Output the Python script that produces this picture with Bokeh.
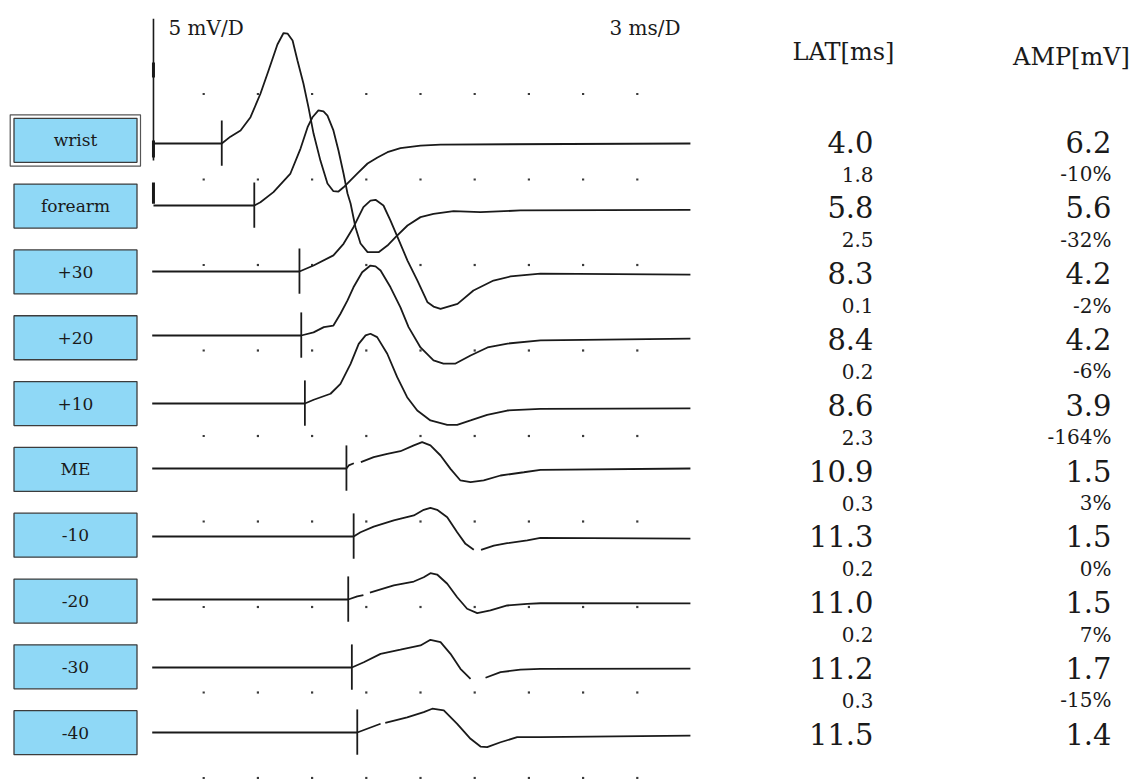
from bokeh.plotting import figure
from bokeh.models import Range1d
from bokeh.core.properties import value
from bokeh.embed import file_html
from bokeh.resources import INLINE

NaN = float("nan")

# ---------------- data ----------------
site_labels = ["wrist", "forearm", "+30", "+20", "+10", "ME", "-10", "-20", "-30", "-40"]
lat_ms = [4.0, 5.8, 8.3, 8.4, 8.6, 10.9, 11.3, 11.0, 11.2, 11.5]
lat_diff_ms = [1.8, 2.5, 0.1, 0.2, 2.3, 0.3, 0.2, 0.2, 0.3]
amp_mv = [6.2, 5.6, 4.2, 4.2, 3.9, 1.5, 1.5, 1.5, 1.7, 1.4]
amp_diff_pct = [-10, -32, -2, -6, -164, 3, 0, 7, -15]

# waveforms: time (ms) and amplitude (mV, relative to each trace baseline)
wrist_t = [0.22, 4.0, 4.48, 5.04, 5.59, 6.14, 6.59, 7.08, 7.42, 7.64, 7.92, 8.19, 8.52, 8.80, 9.08, 9.46,
           9.85, 10.18, 10.46, 10.74, 11.51, 12.07, 12.62, 13.17, 13.89, 15.00, 16.11, 29.94]
wrist_a = [0, 0, 0.40, 0.76, 1.54, 2.91, 4.27, 5.79, 6.46, 6.43, 6.02, 4.85, 3.51, 2.11, 0.58, -1.00,
           -2.34, -2.79, -2.81, -2.56, -1.75, -1.17, -0.82, -0.51, -0.27, -0.12, -0.06, 0.0]
forearm_t = [0.22, 5.8, 6.14, 6.86, 7.80, 8.36, 8.75, 9.02, 9.35, 9.63, 9.85, 10.18, 10.46, 10.74, 10.96,
             11.13, 11.40, 11.68, 12.07, 12.68, 13.17, 13.62, 14.28, 15.00, 15.72, 16.83, 18.32, 20.53, 29.94]
forearm_a = [0, 0, 0.19, 0.78, 1.87, 3.33, 4.58, 5.16, 5.56, 5.50, 5.26, 4.39, 3.22, 1.87, 0.70,
             0.12, -1.27, -2.22, -2.73, -2.73, -2.34, -1.85, -1.17, -0.68, -0.49, -0.33, -0.39, -0.29, -0.26]
p30_t = [0.15, 8.3, 9.08, 10.18, 10.74, 11.29, 11.84, 12.23, 12.51, 12.95, 13.34, 13.73, 14.28, 14.83,
         15.39, 15.72, 16.11, 17.05, 17.93, 19.04, 19.98, 21.64, 29.94]
p30_a = [0, 0, 0.35, 0.94, 1.62, 2.59, 3.76, 4.15, 4.19, 3.86, 2.98, 2.01, 0.64, -0.53,
         -1.80, -2.05, -2.18, -1.89, -1.11, -0.53, -0.29, -0.12, -0.18]
p20_t = [0.15, 8.4, 9.08, 9.65, 10.18, 10.57, 10.96, 11.29, 11.77, 12.23, 12.51, 12.79, 13.34, 13.89,
         14.34, 15.00, 15.72, 16.27, 16.94, 17.77, 18.71, 19.82, 21.64, 29.94]
p20_a = [0, 0, 0.18, 0.49, 0.58, 1.27, 2.05, 2.82, 3.70, 4.09, 4.04, 3.80, 2.82, 1.65,
         0.49, -0.70, -1.46, -1.64, -1.64, -1.17, -0.70, -0.47, -0.29, -0.18]
p10_t = [0.15, 8.6, 9.09, 10.02, 10.57, 11.13, 11.58, 11.96, 12.23, 12.60, 13.16, 13.71, 14.26, 14.82,
         15.55, 16.48, 17.03, 17.77, 18.69, 19.80, 21.64, 29.94]
p10_a = [0, 0, 0.22, 0.57, 1.15, 2.32, 3.49, 3.98, 4.08, 3.88, 2.91, 1.54, 0.37, -0.41,
         -0.99, -1.25, -1.25, -0.99, -0.66, -0.41, -0.31, -0.29]
me_t = [0.15, 10.9, 11.03, 11.31, NaN, 11.70, 12.41, 13.16, 13.89, 14.63, 15.09, 15.55, 16.11, 16.66,
        17.21, 17.77, 18.50, 19.43, 20.72, 21.64, 29.94]
me_a = [0, 0, 0.18, 0.31, NaN, 0.37, 0.66, 0.86, 1.01, 1.35, 1.54, 1.35, 0.76, -0.02,
        -0.70, -0.80, -0.70, -0.41, -0.22, -0.08, 0.0]
m10_t = [0.15, 11.3, 11.68, 12.41, 13.52, 14.63, 15.18, 15.55, 15.92, 16.48, 17.03, 17.49, 17.95, NaN,
         18.35, 19.06, 19.80, 20.91, 21.64, 29.94]
m10_a = [0, 0, 0.25, 0.58, 0.94, 1.23, 1.56, 1.68, 1.56, 1.13, 0.25, -0.43, -0.78, NaN,
         -0.78, -0.53, -0.39, -0.23, -0.08, -0.12]
m20_t = [0.15, 11.0, 11.50, 11.84, NaN, 12.20, 13.52, 14.63, 15.18, 15.55, 15.92, 16.48, 17.03, 17.58,
         18.14, 18.87, 19.80, 20.91, 21.64, 29.94]
m20_a = [0, 0, 0.18, 0.26, NaN, 0.40, 0.82, 1.05, 1.30, 1.54, 1.46, 0.92, 0.13, -0.54,
         -0.80, -0.64, -0.35, -0.25, -0.22, -0.23]
m30_t = [0.15, 11.2, 11.86, 12.79, 13.89, 15.00, 15.55, 16.11, 16.66, 17.21, 17.77, NaN,
         18.60, 19.43, 20.53, 21.64, 29.94]
m30_a = [0, 0, 0.31, 0.80, 1.04, 1.29, 1.62, 1.48, 0.80, -0.08, -0.66, NaN,
         -0.60, -0.27, -0.13, -0.08, -0.06]
m40_t = [0.15, 11.5, 12.05, 12.79, NaN, 13.05, 14.26, 15.18, 15.65, 16.29, 17.03, 17.77, 18.32, 18.69,
         19.43, 20.35, 21.64, 29.94]
m40_a = [0, 0, 0.22, 0.51, NaN, 0.57, 0.89, 1.19, 1.39, 1.29, 0.51, -0.37, -0.82, -0.86,
         -0.57, -0.27, -0.27, -0.18]

# stimulus artifacts (mV relative to baseline, at trace start)
wrist_artifact_mv = [7.3, -1.0]
forearm_artifact_mv = [1.35, 0.1]

trace_t = [wrist_t, forearm_t, p30_t, p20_t, p10_t, me_t, m10_t, m20_t, m30_t, m40_t]
trace_a = [wrist_a, forearm_a, p30_a, p20_a, p10_a, me_a, m10_a, m20_a, m30_a, m40_a]

grid_ms = [3, 6, 9, 12, 15, 18, 21, 24, 27]
grid_mv = [0, 5, 10, 15, 20, 25, 30, 35, 40]

# ---------------- layout (pixel positions in the page) ----------------
T0_PX = 149.0
PX_PER_MS = 54.2 / 3.0
V0_PX = 777.5
PX_PER_MV = 85.5 / 5.0
W, H = 1136, 779


def tx(X):
    return (X - T0_PX) / PX_PER_MS


def vy(Y):
    return (V0_PX - Y) / PX_PER_MV


base_px = [143, 205, 271, 335, 403, 468, 536, 599, 667, 732]
box_center_px = [139.8 + i * 65.82 for i in range(10)]
row_center_px = [141.0 + i * 65.8 for i in range(10)]

FONT = "DejaVu Serif"
INK = "#1a1a1a"
BOX_FILL = "#8fd8f6"

p = figure(width=W, height=H,
           x_range=Range1d(tx(0), tx(W)), y_range=Range1d(vy(H), vy(0)),
           output_backend="svg", toolbar_location=None, min_border=0)
p.axis.visible = False
p.grid.visible = False
p.outline_line_color = None
p.background_fill_color = "white"
p.border_fill_color = "white"

# dotted grid
gx = [x for y in grid_mv for x in grid_ms]
gy = [y for y in grid_mv for x in grid_ms]
p.scatter(gx, gy, marker="square", size=2.2, color="#3a3a3a", line_color=None)

# label boxes
p.quad(left=[tx(9.7)], right=[tx(140)], top=[vy(114.3)], bottom=[vy(165.7)],
       fill_color="white", line_color="#555555", line_width=1.2)
for i, lab in enumerate(site_labels):
    c = box_center_px[i]
    p.quad(left=[tx(13.5)], right=[tx(136.5)], top=[vy(c - 22)], bottom=[vy(c + 22)],
           fill_color=BOX_FILL, line_color="#3c3c3c", line_width=1.3)
    p.text([tx(75)], [vy(c)], text=[lab], text_align="center", text_baseline="middle",
           text_font=value(FONT), text_font_size="17px", text_color=INK)

# traces
for i in range(10):
    b = vy(base_px[i])
    ys = [a + b for a in trace_a[i]]
    p.line(trace_t[i], ys, line_color=INK, line_width=1.8)
    # onset marker at latency
    p.segment(x0=[lat_ms[i]], y0=[b - 1.3], x1=[lat_ms[i]], y1=[b + 1.35],
              line_color=INK, line_width=1.8)

# stimulus artifacts
bw = vy(base_px[0])
p.segment(x0=[wrist_t[0]], y0=[bw + wrist_artifact_mv[1]], x1=[wrist_t[0]], y1=[bw + wrist_artifact_mv[0]],
          line_color=INK, line_width=1.6)
p.segment(x0=[wrist_t[0]] * 2, y0=[vy(77), vy(157)], x1=[wrist_t[0]] * 2, y1=[vy(62), vy(140)],
          line_color=INK, line_width=3)
bf = vy(base_px[1])
p.segment(x0=[forearm_t[0]], y0=[bf + forearm_artifact_mv[1]], x1=[forearm_t[0]], y1=[bf + forearm_artifact_mv[0]],
          line_color=INK, line_width=3)

# scale texts
p.text([tx(168)], [vy(27)], text=["5 mV/D"], text_align="left", text_baseline="middle",
       text_font=value(FONT), text_font_size="20px", text_color=INK)
p.text([tx(680)], [vy(27)], text=["3 ms/D"], text_align="right", text_baseline="middle",
       text_font=value(FONT), text_font_size="20px", text_color=INK)

# table headers
p.text([tx(843)], [vy(51)], text=["LAT[ms]"], text_align="center", text_baseline="middle",
       text_font=value(FONT), text_font_size="24px", text_color=INK)
p.text([tx(1071)], [vy(56)], text=["AMP[mV]"], text_align="center", text_baseline="middle",
       text_font=value(FONT), text_font_size="24px", text_color=INK)

# table values
for i in range(10):
    yc = vy(row_center_px[i])
    p.text([tx(873)], [yc], text=[f"{lat_ms[i]:.1f}"], text_align="right", text_baseline="middle",
           text_font=value(FONT), text_font_size="29px", text_color=INK)
    p.text([tx(1111)], [yc], text=[f"{amp_mv[i]:.1f}"], text_align="right", text_baseline="middle",
           text_font=value(FONT), text_font_size="29px", text_color=INK)
for i in range(9):
    yc = vy(row_center_px[i] + 32.5)
    p.text([tx(873)], [yc], text=[f"{lat_diff_ms[i]:.1f}"], text_align="right", text_baseline="middle",
           text_font=value(FONT), text_font_size="20px", text_color=INK)
    p.text([tx(1111)], [yc], text=[f"{amp_diff_pct[i]}%"], text_align="right", text_baseline="middle",
           text_font=value(FONT), text_font_size="20px", text_color=INK)

open("out.html", "w").write(file_html(p, INLINE))
